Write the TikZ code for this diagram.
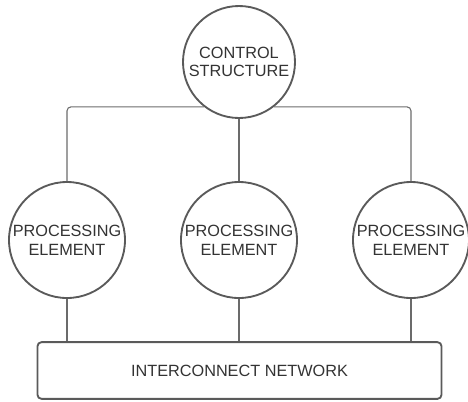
\documentclass[tikz,border=0pt]{standalone}
\usepackage{fontspec}
\setmainfont{Liberation Sans}
\definecolor{edge}{HTML}{5A5A5A}
\definecolor{ink}{HTML}{333333}
\tikzset{
  unit/.style={circle,draw=edge,line width=1.4pt,fill=white,inner sep=0pt,
    align=center,text=ink,font=\fontsize{12.2}{14}\selectfont},
  wire/.style={draw=edge!90,line width=0.8pt}
}
\begin{document}
\begin{tikzpicture}[x=0.75pt,y=-0.75pt]
    \useasboundingbox (0,0) rectangle (468,401);
    \node[unit,minimum size=84pt] (ctrl) at (239,62) {CONTROL\\STRUCTURE};
    \node[unit,minimum size=87pt] (pe1) at (67,240) {PROCESSING\\ELEMENT};
    \node[unit,minimum size=87pt] (pe2) at (239,240) {PROCESSING\\ELEMENT};
    \node[unit,minimum size=87pt] (pe3) at (411,240) {PROCESSING\\ELEMENT};
    \node[draw=edge,line width=1.4pt,rounded corners=3pt,minimum width=303pt,
      minimum height=42.5pt,text=ink,font=\fontsize{12.2}{14}\selectfont]
      (net) at (239.5,370.5) {INTERCONNECT NETWORK};
    % control bus
    \draw[wire,rounded corners=3pt] (pe1.north) |- (ctrl.232);
    \draw[wire,rounded corners=3pt] (pe3.north) |- (ctrl.308);
    \draw[wire] (ctrl) -- (pe2);
    % links down to the network
    \draw[wire] (pe1.south) -- (pe1.south |- net.north);
    \draw[wire] (pe2.south) -- (pe2.south |- net.north);
    \draw[wire] (pe3.south) -- (pe3.south |- net.north);
  \end{tikzpicture}
\end{document}
